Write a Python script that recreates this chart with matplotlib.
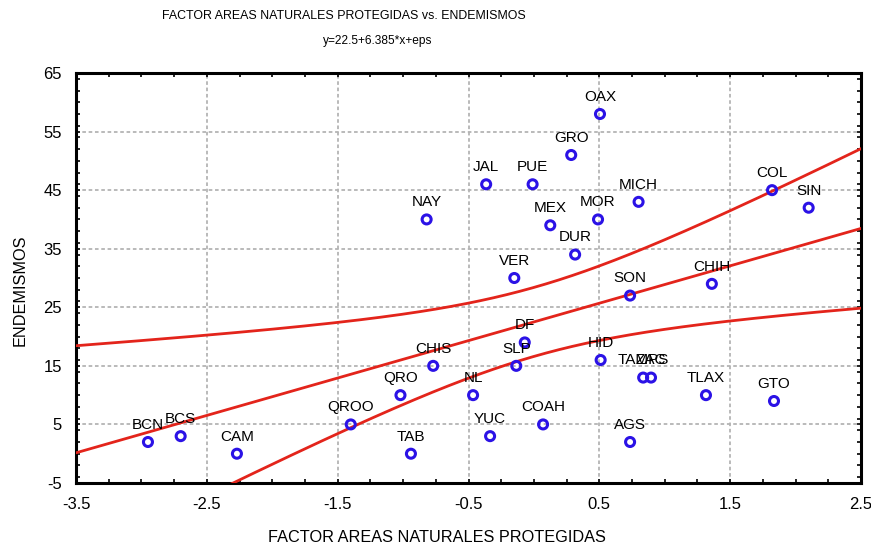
import numpy as np
import matplotlib
matplotlib.use("Agg")
import matplotlib.pyplot as plt
from matplotlib.ticker import MultipleLocator
from matplotlib import font_manager

# ---- data ----
states = ["BCN", "BCS", "CAM", "QROO", "QRO", "CHIS", "TAB", "NAY", "NL", "YUC",
          "JAL", "PUE", "GRO", "OAX", "MEX", "MOR", "MICH", "DUR", "VER", "SON",
          "CHIH", "COL", "SIN", "DF", "SLP", "HID", "TAMPS", "ZAC", "TLAX", "GTO",
          "COAH", "AGS"]
factor_anp = [-2.95, -2.70, -2.27, -1.40, -1.02, -0.77, -0.94, -0.82, -0.465, -0.335,
              -0.365, -0.01, 0.285, 0.505, 0.125, 0.49, 0.80, 0.315, -0.15, 0.735,
              1.36, 1.82, 2.10, -0.07, -0.135, 0.51, 0.835, 0.895, 1.315, 1.835,
              0.07, 0.735]
endemismos = [2, 3, 0, 5, 10, 15, 0, 40, 10, 3,
              46, 46, 51, 58, 39, 40, 43, 34, 30, 27,
              29, 45, 42, 19, 15, 16, 13, 13, 10, 9,
              5, 2]
intercept = 22.5
slope = 6.385
t_crit = 2.042  # t(0.975, df=30)

names = {f.name for f in font_manager.fontManager.ttflist}
has_narrow = "Liberation Sans Narrow" in names
if has_narrow:
    head_font, head_size, eq_size = "Liberation Sans Narrow", 10.8, 9.8
else:
    head_font, head_size, eq_size = "Liberation Sans", 8.9, 8.6

x = np.array(factor_anp)
y = np.array(endemismos)
n = len(x)

fig = plt.figure(figsize=(8.71, 5.48), dpi=100)
ax = fig.add_axes([76/871, 1-483/548, (861-76)/871, (483-73)/548])

xs = np.linspace(-3.5, 2.5, 300)
fit = intercept + slope * xs
resid = y - (intercept + slope * x)
s = np.sqrt(np.sum(resid**2) / (n - 2))
xbar = x.mean()
sxx = np.sum((x - xbar)**2)
hw = t_crit * s * np.sqrt(1/n + (xs - xbar)**2 / sxx)
red = "#e3241b"
for yy in (fit, fit + hw, fit - hw):
    ax.plot(xs, yy, color=red, lw=2.0, zorder=3)

ax.scatter(x, y, s=42, facecolors="none", edgecolors="#2b12e6", linewidths=2.2, zorder=4)
for name, xi, yi in zip(states, x, y):
    ax.annotate(name, (xi, yi), xytext=(0, 9.5), textcoords="offset points",
                ha="center", va="baseline", fontsize=11, family="Liberation Sans", zorder=5)

ax.set_xlim(-3.5, 2.5)
ax.set_ylim(-5, 65)
ax.xaxis.set_minor_locator(MultipleLocator(0.25))
ax.yaxis.set_minor_locator(MultipleLocator(2))
ax.set_xticks(np.arange(-3.5, 2.6, 1.0))
ax.set_xticklabels(["-3.5", "-2.5", "-1.5", "-0.5", "0.5", "1.5", "2.5"])
ax.set_yticks(np.arange(-5, 66, 10))
ax.set_yticklabels([str(v) for v in range(-5, 66, 10)])
ax.tick_params(which="both", direction="in", top=True, right=True)
ax.tick_params(which="major", length=3, width=1.2, labelsize=12)
ax.tick_params(axis="x", which="major", pad=10)
ax.tick_params(axis="y", which="major", pad=10)
ax.tick_params(which="minor", length=3, width=1.2)
for lab in ax.get_xticklabels() + ax.get_yticklabels():
    lab.set_family("Liberation Sans")
ax.grid(True, which="major", color="#b4b4b4", linestyle=(0, (2, 1.5)), lw=1.3)
for sp in ax.spines.values():
    sp.set_linewidth(2.2)

fig.text(344/871, 1-16/548, "FACTOR AREAS NATURALES PROTEGIDAS vs. ENDEMISMOS",
         ha="center", va="center", fontsize=head_size, family=head_font)
fig.text(378/871, 1-41/548, "y=22.5+6.385*x+eps",
         ha="center", va="center", fontsize=eq_size, family=head_font)
fig.text(437/871, 1-538/548, "FACTOR AREAS NATURALES PROTEGIDAS",
         ha="center", va="center", fontsize=11.7, family="Liberation Sans")
fig.text(20/871, 1-290/548, "ENDEMISMOS", rotation=90,
         ha="center", va="center", fontsize=11.7, family="Liberation Sans")

fig.savefig("out.png", dpi=100)
